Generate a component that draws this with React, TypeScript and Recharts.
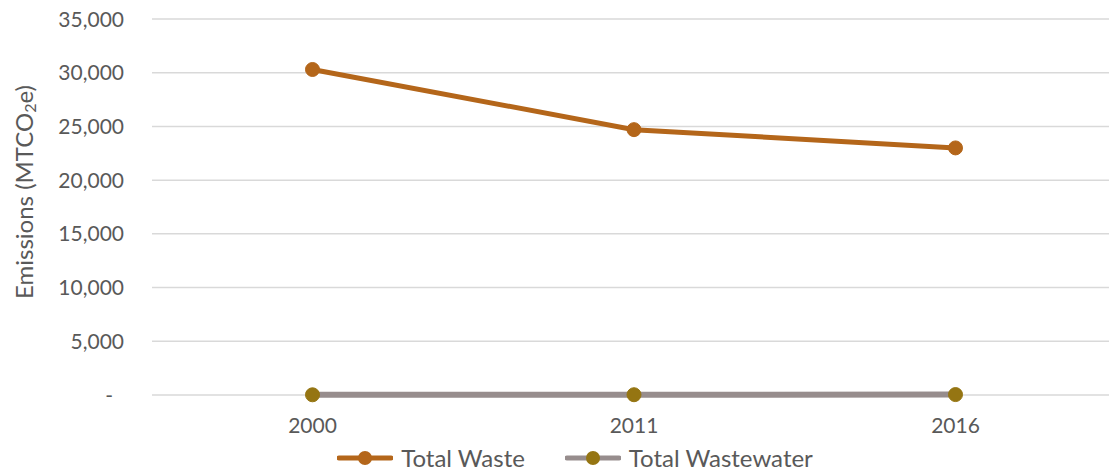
import React from "react";
import { LineChart, Line, XAxis, YAxis, CartesianGrid, Legend } from "recharts";

const years = ["2000", "2011", "2016"];
const totalWaste = [30300, 24700, 23000];
const totalWastewater = [20, 25, 40];
const yTicks = [0, 5000, 10000, 15000, 20000, 25000, 30000, 35000];

const data = years.map((y, i) => ({ year: y, waste: totalWaste[i], wastewater: totalWastewater[i] }));

const FONT = "Lato, 'Open Sans', sans-serif";
const TEXT = "#595959";

const fmt = (v: number) => (v === 0 ? "-" : v.toLocaleString("en-US"));

const YTick = (props: any) => {
  const { x, y, payload } = props;
  const v = payload.value;
  return (
    <text x={x - (v === 0 ? 11 : 0)} y={y} dy="0.36em" textAnchor="end" fill={TEXT} fontSize={21} fontFamily={FONT}>
      {fmt(v)}
    </text>
  );
};

const YLabel = (props: any) => {
  const vb = props.viewBox || {};
  const cx = 23;
  const cy = (vb.y ?? 19) + (vb.height ?? 375) / 2 - 15;
  return (
    <text x={cx} y={cy} transform={`rotate(-90 ${cx} ${cy})`} textAnchor="middle" dominantBaseline="central" fill={TEXT} fontSize={24} fontFamily={FONT}>
      <tspan>Emissions (MTCO</tspan>
      <tspan fontSize={16} dy={6}>2</tspan>
      <tspan dy={-6}>e)</tspan>
    </text>
  );
};

const LegendContent = (props: any) => {
  const items = props.payload || [];
  return (
    <div style={{ display: "flex", justifyContent: "center", alignItems: "center", paddingLeft: 34, height: 30 }}>
      {items.map((it: any, i: number) => (
        <div key={i} style={{ display: "flex", alignItems: "center", marginRight: i === 0 ? 40 : 0 }}>
          <svg width={56} height={20} style={{ marginRight: 8 }}>
            <line x1={2} y1={10} x2={54} y2={10} stroke={it.payload.stroke} strokeWidth={5} strokeLinecap="round" />
            <circle cx={28} cy={10} r={7} fill={it.payload.dotFill} />
          </svg>
          <span style={{ fontFamily: FONT, fontSize: 24, color: TEXT, lineHeight: "30px" }}>{it.value}</span>
        </div>
      ))}
    </div>
  );
};

export default function App() {
  return (
    <div style={{ position: "absolute", left: 0, top: 0, width: 1109, height: 473, overflow: "hidden", background: "#fff" }}>
      <LineChart width={1116} height={473} data={data} margin={{ top: 19, right: 0, bottom: 0, left: 0 }}>
        <CartesianGrid horizontal vertical={false} stroke="#D9D9D9" strokeWidth={1.5} />
        <XAxis
          dataKey="year"
          padding={{ left: 160.5, right: 160.5 }}
          axisLine={false}
          tickLine={false}
          tickSize={0}
          tickMargin={23}
          height={48}
          tick={{ fill: TEXT, fontSize: 21, fontFamily: FONT }}
        />
        <YAxis
          domain={[0, 35000]}
          ticks={yTicks}
          width={152}
          axisLine={false}
          tickLine={false}
          tickSize={0}
          tickMargin={28}
          tick={<YTick />}
          label={<YLabel />}
        />
        <Legend verticalAlign="bottom" height={30} content={<LegendContent />} />
        <Line
          dataKey="wastewater"
          name="Total Wastewater"
          stroke="#978D8D"
          strokeWidth={6}
          dot={{ r: 7, fill: "#957512", stroke: "#957512", strokeWidth: 1 }}
          activeDot={false}
          isAnimationActive={false}
          legendType="line"
          {...({ dotFill: "#957512" } as any)}
        />
        <Line
          dataKey="waste"
          name="Total Waste"
          stroke="#B4661A"
          strokeWidth={5}
          dot={{ r: 7, fill: "#B4661A", stroke: "#B4661A", strokeWidth: 1 }}
          activeDot={false}
          isAnimationActive={false}
          {...({ dotFill: "#B4661A" } as any)}
        />
      </LineChart>
    </div>
  );
}
